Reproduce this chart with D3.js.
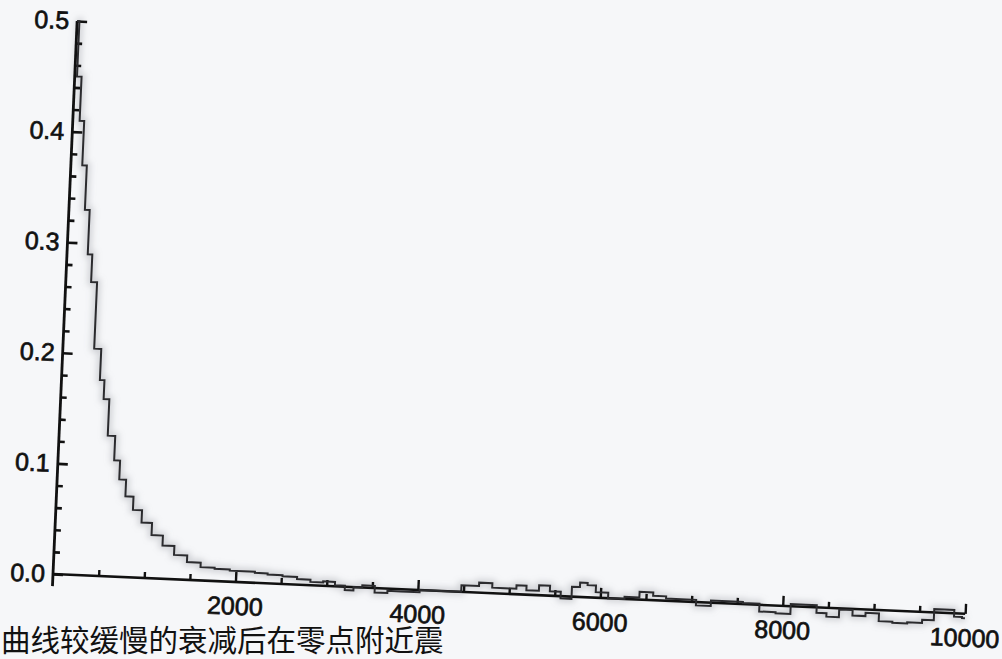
<!DOCTYPE html>
<html>
<head>
<meta charset="utf-8">
<script src="https://cdn.jsdelivr.net/npm/d3@7"></script>
<style>
  html, body { margin: 0; padding: 0; background: #f6f7f9; }
  svg { display: block; }
</style>
</head>
<body>
<svg id="chart" width="1002" height="659"></svg>
<script>
// Lag (x) and correlation value (y) of the decaying curve
const lags = [
  0, 50, 100, 150, 200, 255, 300, 386, 455, 486,
  580, 650, 710, 800, 888, 1000, 1119, 1250, 1380, 1540,
  1682, 1850, 2015, 2150, 2267, 2430, 2595, 2750, 2890, 3030,
  3150, 3250, 3340, 3440, 3615, 3720, 3910, 4130, 4380, 4570,
  4765, 4860, 5040, 5115, 5260, 5390, 5500, 5630, 5740, 5805,
  5905, 5990, 6180, 6350, 6505, 6650, 6790, 6980, 7120, 7305,
  7490, 7635, 7855, 7995, 8180, 8325, 8420, 8545, 8695, 8840,
  8980, 9135, 9280, 9460, 9605, 9715, 9825, 9935, 10000
];
const values = [
  0.500, 0.450, 0.410, 0.370, 0.330, 0.290, 0.265, 0.205, 0.177, 0.160,
  0.127, 0.105, 0.088, 0.073, 0.061, 0.050, 0.039, 0.030, 0.022, 0.016,
  0.012, 0.011, 0.010, 0.010, 0.009, 0.008, 0.007, 0.005, 0.003, 0.004,
  0.001, -0.003, 0.000, 0.002, -0.004, -0.002, -0.002, 0.000, 0.000, 0.006,
  0.009, 0.005, 0.005, 0.008, 0.004, 0.009, 0.004, -0.002, 0.009, 0.013,
  0.011, 0.005, 0.000, 0.002, 0.007, 0.004, 0.002, 0.002, -0.003, 0.002,
  0.002, 0.001, -0.006, -0.007, 0.002, 0.002, -0.005, -0.008, -0.001, -0.006,
  -0.003, -0.010, -0.011, -0.010, -0.007, 0.003, 0.003, -0.003, -0.004
];

// Tick values
const xMajorTicks = [2000, 4000, 6000, 8000, 10000];
const xMinorTicks = [500, 1000, 1500, 2500, 3000, 3500, 4500, 5000, 5500, 6500, 7000, 7500, 8500, 9000, 9500];
const yMajorTicks = [0.0, 0.1, 0.2, 0.3, 0.4, 0.5];
const yMinorTicks = [0.02, 0.04, 0.06, 0.08, 0.12, 0.14, 0.16, 0.18, 0.22, 0.24, 0.26, 0.28,
                     0.32, 0.34, 0.36, 0.38, 0.42, 0.44, 0.46, 0.48];

const caption = "曲线较缓慢的衰减后在零点附近震";

const svg = d3.select("#chart");

const defs = svg.append("defs");
defs.append("filter").attr("id", "soft")
  .attr("x", "-10%").attr("y", "-10%").attr("width", "120%").attr("height", "120%")
  .append("feGaussianBlur").attr("stdDeviation", 3);

// Plot frame, slightly tilted
const plot = svg.append("g")
  .attr("transform", "translate(53,574) rotate(2.5)");

const x = d3.scaleLinear().domain([0, 10000]).range([0, 913]);
const y = d3.scaleLinear().domain([0, 0.5]).range([0, -553.5]);

const data = lags.map((d, i) => ({ lag: d, v: values[i] }));
const line = d3.line()
  .x(d => x(d.lag))
  .y(d => y(d.v))
  .curve(d3.curveStep);

// soft halo under the curve
plot.append("path")
  .datum(data)
  .attr("d", line)
  .attr("fill", "none")
  .attr("stroke", "#8a8d92")
  .attr("stroke-opacity", 0.35)
  .attr("stroke-width", 7)
  .attr("filter", "url(#soft)");

// axis lines
plot.append("line")
  .attr("x1", x(0)).attr("x2", x(10000))
  .attr("y1", y(0)).attr("y2", y(0))
  .attr("stroke", "#111").attr("stroke-width", 2.6);
plot.append("line")
  .attr("x1", x(0)).attr("x2", x(0))
  .attr("y1", y(-0.011)).attr("y2", y(0.5))
  .attr("stroke", "#111").attr("stroke-width", 2.8);

const labelStyle = g => g.selectAll(".tick text")
  .attr("font-family", "'Liberation Sans', Arial, sans-serif")
  .attr("font-size", 25)
  .attr("fill", "#111")
  .attr("stroke", "#111")
  .attr("stroke-width", 0.7);

// x axis: minor ticks
plot.append("g")
  .call(d3.axisBottom(x).tickValues(xMinorTicks).tickSizeInner(-6).tickSizeOuter(0).tickFormat(""))
  .call(g => g.select(".domain").remove())
  .call(g => g.selectAll(".tick line").attr("stroke", "#111").attr("stroke-width", 2.4));

// x axis: major ticks and labels
plot.append("g")
  .call(d3.axisBottom(x).tickValues(xMajorTicks).tickSizeInner(-10).tickSizeOuter(0)
    .tickPadding(15).tickFormat(d3.format("d")))
  .call(g => g.select(".domain").remove())
  .call(g => g.selectAll(".tick line").attr("stroke", "#111").attr("stroke-width", 2.4))
  .call(labelStyle);

// y axis: minor ticks
plot.append("g")
  .call(d3.axisLeft(y).tickValues(yMinorTicks).tickSizeInner(-6).tickSizeOuter(0).tickFormat(""))
  .call(g => g.select(".domain").remove())
  .call(g => g.selectAll(".tick line").attr("stroke", "#111").attr("stroke-width", 2.6));

// y axis: major ticks and labels
plot.append("g")
  .call(d3.axisLeft(y).tickValues(yMajorTicks).tickSizeInner(-10).tickSizeOuter(0)
    .tickPadding(8).tickFormat(d3.format(".1f")))
  .call(g => g.select(".domain").remove())
  .call(g => g.selectAll(".tick line").attr("stroke", "#111").attr("stroke-width", 2.6))
  .call(labelStyle);

// the curve
plot.append("path")
  .datum(data)
  .attr("d", line)
  .attr("fill", "none")
  .attr("stroke", "#2b2b2e")
  .attr("stroke-width", 2)
  .attr("stroke-linejoin", "miter");

// caption line below the plot
svg.append("text")
  .attr("x", 1)
  .attr("y", 651)
  .attr("font-family", "'Noto Sans CJK SC', sans-serif")
  .attr("font-size", 29.5)
  .attr("fill", "#111")
  .text(caption);
</script>
</body>
</html>
